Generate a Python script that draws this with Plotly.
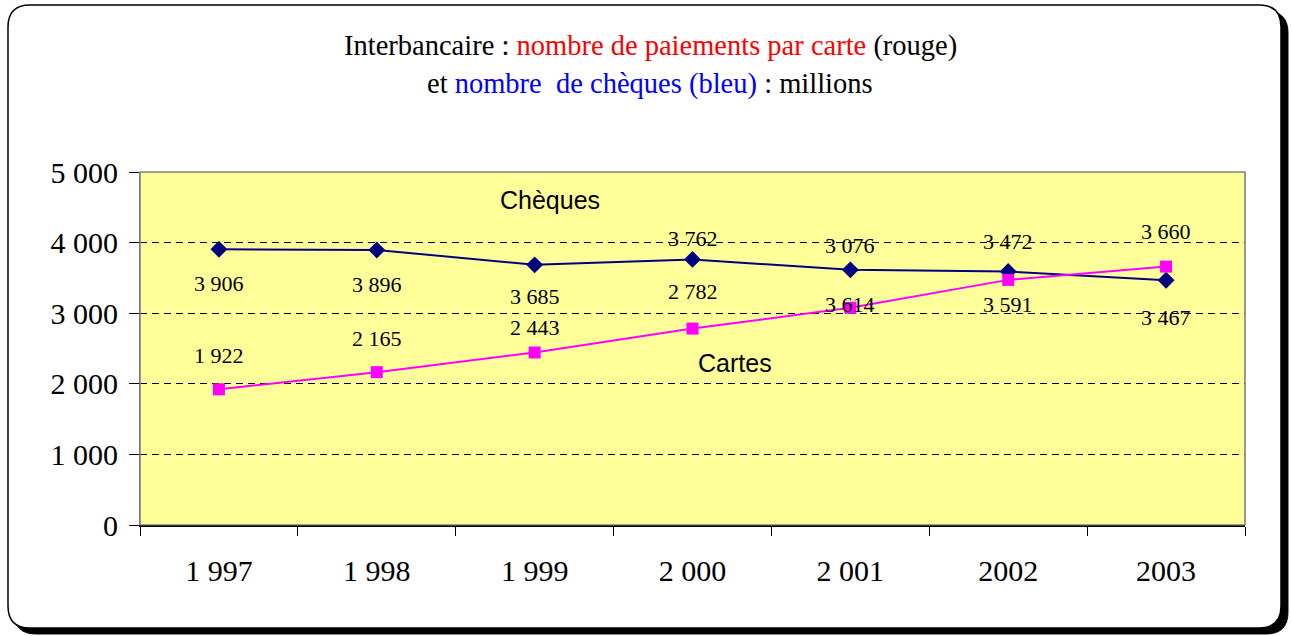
import plotly.graph_objects as go

# ---- data ----
years = ["1 997", "1 998", "1 999", "2 000", "2 001", "2002", "2003"]
cheques = [3906, 3896, 3685, 3762, 3614, 3591, 3467]
cartes = [1922, 2165, 2443, 2782, 3076, 3472, 3660]
y_tickvals = [0, 1000, 2000, 3000, 4000, 5000]
y_ticktext = ["0", "1 000", "2 000", "3 000", "4 000", "5 000"]

# label vertical offsets (pixels) relative to points
cheq_shift = [-34, -35, -32, 21, -35, -33, -37]
cart_shift = [34, 34, 25, 37, 62, 38, 35]

W, H = 1292, 636
L, R, T, B = 140, 1245, 172, 525  # plot area in pixels


def px(x):
    return (x - L) / (R - L)


def py(y):
    return (B - y) / (B - T)


def rounded(x0, y0, x1, y1, r):
    pts = [
        ("M", (x0 + r, y0)),
        ("L", (x1 - r, y0)),
        ("Q", (x1, y0), (x1, y0 + r)),
        ("L", (x1, y1 - r)),
        ("Q", (x1, y1), (x1 - r, y1)),
        ("L", (x0 + r, y1)),
        ("Q", (x0, y1), (x0, y1 - r)),
        ("L", (x0, y0 + r)),
        ("Q", (x0, y0), (x0 + r, y0)),
    ]
    s = ""
    for p in pts:
        cmd = p[0]
        coords = " ".join(f"{px(a):.5f},{py(b):.5f}" for a, b in p[1:])
        s += f"{cmd}{coords} "
    return s + "Z"


serif = "Liberation Serif, Times New Roman, serif"
sans = "Liberation Sans, Arial, sans-serif"

fig = go.Figure()

fig.add_trace(go.Scatter(
    x=years, y=cheques, mode="lines+markers", name="Chèques",
    line=dict(color="#000080", width=2),
    marker=dict(symbol="diamond", size=13, color="#000080"),
))
fig.add_trace(go.Scatter(
    x=years, y=cartes, mode="lines+markers", name="Cartes",
    line=dict(color="#FF00FF", width=2),
    marker=dict(symbol="square", size=12, color="#FF00FF"),
))

annotations = []


def fmt(v):
    return f"{v:,}".replace(",", " ")


for i, (v, s) in enumerate(zip(cheques, cheq_shift)):
    annotations.append(dict(x=i, y=v, yshift=s, text=fmt(v), showarrow=False,
                            yanchor="middle",
                            font=dict(family=serif, size=22, color="black")))
for i, (v, s) in enumerate(zip(cartes, cart_shift)):
    annotations.append(dict(x=i, y=v, yshift=s, text=fmt(v), showarrow=False,
                            yanchor="middle",
                            font=dict(family=serif, size=22, color="black")))

annotations.append(dict(xref="paper", yref="paper", x=px(498), y=py(200),
                        text="Chèques", showarrow=False, yanchor="middle",
                        font=dict(family=sans, size=25, color="black")))
annotations.append(dict(xref="paper", yref="paper", x=px(735), y=py(363),
                        text="Cartes", showarrow=False, yanchor="middle",
                        font=dict(family=sans, size=25, color="black")))

annotations.append(dict(
    xref="paper", yref="paper", x=px(650), y=py(46), showarrow=False,
    yanchor="middle",
    text="Interbancaire : <span style='color:#FF0000'>nombre de paiements par carte</span> (rouge)",
    font=dict(family=serif, size=28.5, color="black")))
annotations.append(dict(
    xref="paper", yref="paper", x=px(650), y=py(84), showarrow=False,
    yanchor="middle",
    text="et <span style='color:#0000FF'>nombre  de chèques (bleu)</span> : millions",
    font=dict(family=serif, size=28.5, color="black")))

shapes = [
    # shadow
    dict(type="path", xref="paper", yref="paper", layer="below",
         path=rounded(14, 11, 1288, 634, 22), fillcolor="black",
         line=dict(color="black", width=1)),
    # frame
    dict(type="path", xref="paper", yref="paper", layer="below",
         path=rounded(8, 5, 1281, 628, 22), fillcolor="white",
         line=dict(color="black", width=1.5)),
    # plot area background
    dict(type="rect", xref="paper", yref="paper", layer="below",
         x0=0, x1=1, y0=0, y1=1, fillcolor="#FFFF99",
         line=dict(color="#808080", width=1)),
    # plot area border on top (hides top gridline)
    dict(type="rect", xref="paper", yref="paper", layer="above",
         x0=0, x1=1, y0=0, y1=1, fillcolor="rgba(0,0,0,0)",
         line=dict(color="#808080", width=1.2)),
]

fig.update_layout(
    width=W, height=H,
    margin=dict(l=L, r=W - R, t=T, b=H - B, pad=0),
    paper_bgcolor="white",
    plot_bgcolor="#FFFF99",
    showlegend=False,
    annotations=annotations,
    shapes=shapes,
    xaxis=dict(
        type="category", categoryorder="array", categoryarray=years,
        range=[-0.5, 6.5], tickson="boundaries",
        ticks="outside", ticklen=9, tickcolor="black", tickwidth=1,
        showline=True, linecolor="black", linewidth=1.5,
        showgrid=False, zeroline=False,
        tickfont=dict(family=serif, size=30, color="black"),
        ticklabelstandoff=18,
    ),
    yaxis=dict(
        range=[0, 5000], tickvals=y_tickvals, ticktext=y_ticktext,
        ticks="outside", ticklen=10, tickcolor="black", tickwidth=1,
        showline=True, linecolor="#808080", linewidth=1.2,
        showgrid=True, gridcolor="black", gridwidth=1, griddash="7px,5px",
        zeroline=False,
        tickfont=dict(family=serif, size=30, color="black"),
        ticklabelstandoff=5,
    ),
)

fig.write_html(
    "out.html",
    config={"displayModeBar": False},
    post_script="document.body.style.margin='0px';document.body.style.overflow='hidden';",
)
